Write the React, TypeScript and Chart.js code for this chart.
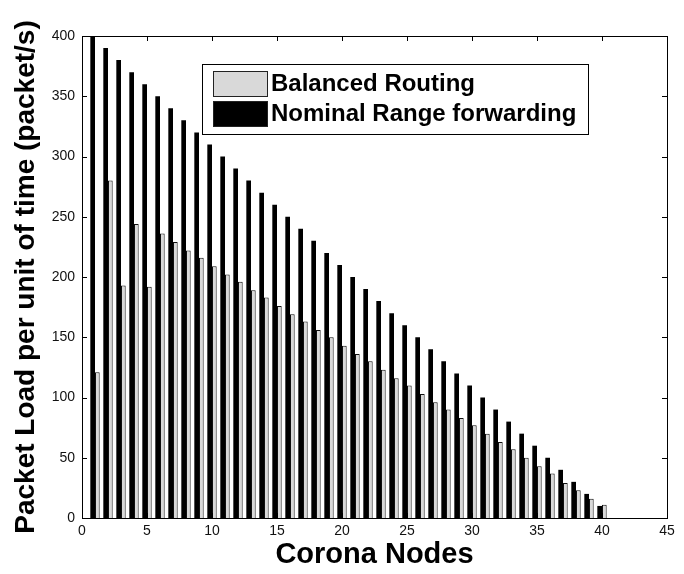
import React, { useEffect, useRef } from "react";
import { Chart, registerables } from "chart.js";

Chart.register(...registerables);

const nodes = [1,2,3,4,5,6,7,8,9,10,11,12,13,14,15,16,17,18,19,20,21,22,23,24,25,26,27,28,29,30,31,32,33,34,35,36,37,38,39,40];
const balancedRouting = [121,280,193,244,192,236,229,222,216,209,202,196,189,183,176,169,163,156,150,143,136,130,123,116,110,103,96,90,83,77,70,63,57,50,43,37,29,23,16,11];
const nominalRange = [400,390,380,370,360,350,340,330,320,310,300,290,280,270,260,250,240,230,220,210,200,190,180,170,160,150,140,130,120,110,100,90,80,70,60,50,40,30,20,10];
const xTicks = [0,5,10,15,20,25,30,35,40,45];
const yTicks = [0,50,100,150,200,250,300,350,400];

const labelBalanced = "Balanced Routing";
const labelNominal = "Nominal Range forwarding";

const framePlugin = {
  id: "frame",
  afterDraw(chart: any) {
    const ctx = chart.ctx;
    const { left, right, top, bottom } = chart.chartArea;
    const xs = chart.scales.x;
    const ys = chart.scales.y;
    ctx.save();
    ctx.strokeStyle = "#000";
    ctx.lineWidth = 1;
    ctx.strokeRect(Math.round(left) + 0.5, Math.round(top) + 0.5, Math.round(right - left), Math.round(bottom - top));
    const tl = 5;
    ctx.beginPath();
    for (const v of xTicks) {
      const px = Math.round(xs.getPixelForValue(v)) + 0.5;
      ctx.moveTo(px, bottom); ctx.lineTo(px, bottom - tl);
      ctx.moveTo(px, top); ctx.lineTo(px, top + tl);
    }
    for (const v of yTicks) {
      const py = Math.round(ys.getPixelForValue(v)) + 0.5;
      ctx.moveTo(left, py); ctx.lineTo(left + tl, py);
      ctx.moveTo(right, py); ctx.lineTo(right - tl, py);
    }
    ctx.stroke();

    // legend
    const lx = 202, ly = 64, lw = 386, lh = 70;
    ctx.fillStyle = "#fff";
    ctx.fillRect(lx, ly, lw, lh);
    ctx.strokeRect(lx + 0.5, ly + 0.5, lw, lh);
    const items = [
      { label: labelBalanced, fill: "#d9d9d9", y: 71 },
      { label: labelNominal, fill: "#000", y: 101 },
    ];
    ctx.font = "bold 24px 'Liberation Sans', Arial, sans-serif";
    ctx.textBaseline = "middle";
    ctx.textAlign = "left";
    for (const it of items) {
      ctx.fillStyle = it.fill;
      ctx.fillRect(213, it.y, 54, 25);
      ctx.strokeStyle = "#222";
      ctx.strokeRect(213.5, it.y + 0.5, 54, 25);
      ctx.fillStyle = "#000";
      ctx.fillText(it.label, 271, it.y + 13);
    }
    ctx.restore();
  },
};

export default function App() {
  const ref = useRef<HTMLCanvasElement | null>(null);
  useEffect(() => {
    if (!ref.current) return;
    const chart = new Chart(ref.current, {
      type: "bar",
      data: {
        datasets: [
          {
            label: labelNominal,
            data: nodes.map((n, i) => ({ x: n, y: nominalRange[i] })),
            backgroundColor: "#000",
            borderColor: "#000",
            borderWidth: 0,
          },
          {
            label: labelBalanced,
            data: nodes.map((n, i) => ({ x: n, y: balancedRouting[i] })),
            backgroundColor: "#d9d9d9",
            borderColor: "#111",
            borderWidth: 1,
          },
        ],
      },
      options: {
        animation: false,
        responsive: false,
        layout: { padding: { left: 0, right: 17, top: 36, bottom: 0 } },
        datasets: { bar: { categoryPercentage: 0.72, barPercentage: 1.0 } },
        plugins: { legend: { display: false }, tooltip: { enabled: false } },
        scales: {
          x: {
            type: "linear",
            min: 0,
            max: 45,
            offset: false,
            grid: { display: false, drawTicks: false },
            border: { display: false },
            afterBuildTicks: (s: any) => { s.ticks = xTicks.map((v) => ({ value: v })); },
            afterFit: (s: any) => { s.height = 56; },
            ticks: { color: "#111", padding: 5, font: { family: "'Liberation Sans', Arial, sans-serif", size: 14 }, maxRotation: 0 },
            title: {
              display: true,
              text: "Corona Nodes",
              color: "#000",
              font: { family: "'Liberation Sans', Arial, sans-serif", size: 29, weight: "bold" },
              padding: { top: 0, bottom: 2 },
            },
          },
          y: {
            min: 0,
            max: 400,
            grid: { display: false, drawTicks: false },
            border: { display: false },
            afterBuildTicks: (s: any) => { s.ticks = yTicks.map((v) => ({ value: v })); },
            afterFit: (s: any) => { s.width = 82; },
            ticks: { color: "#111", padding: 7, font: { family: "'Liberation Sans', Arial, sans-serif", size: 14 } },
            title: {
              display: true,
              text: "Packet Load per unit of time (packet/s)",
              color: "#000",
              font: { family: "'Liberation Sans', Arial, sans-serif", size: 28, weight: "bold" },
              padding: { top: 9, bottom: 0 },
            },
          },
        },
      },
      plugins: [framePlugin],
    } as any);
    return () => chart.destroy();
  }, []);
  return (
    <div style={{ position: "absolute", left: 0, top: 0, width: 684, height: 574, background: "#fff" }}>
      <canvas ref={ref} width={684} height={574} style={{ display: "block" }} />
    </div>
  );
}
